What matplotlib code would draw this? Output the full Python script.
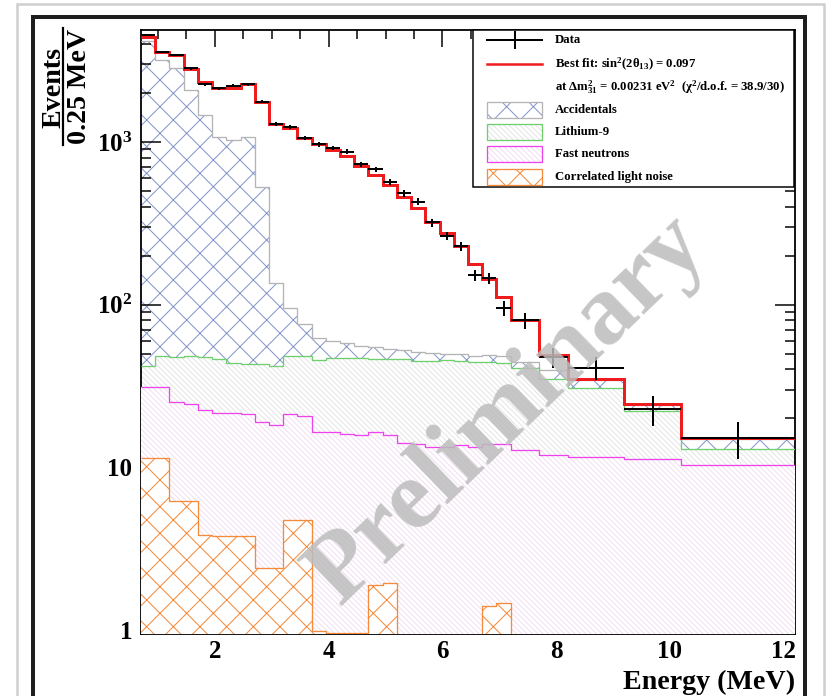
import numpy as np
import matplotlib
matplotlib.use('Agg')
import matplotlib.pyplot as plt
from matplotlib.patches import Rectangle
from matplotlib.lines import Line2D
from matplotlib.ticker import MultipleLocator, FixedLocator, FixedFormatter, LogLocator, NullFormatter

# ---------------- data ----------------
edges = [0.7, 0.95, 1.2, 1.45, 1.7, 1.95, 2.2, 2.45, 2.7, 2.95, 3.2, 3.45, 3.7, 3.95,
         4.2, 4.45, 4.7, 4.95, 5.2, 5.45, 5.7, 5.95, 6.2, 6.45, 6.7, 6.95, 7.2,
         7.7, 8.2, 9.2, 10.2, 12.2]
data = [4550, 3580, 3420, 2830, 2260, 2135, 2220, 2260, 1765, 1283, 1240, 1060, 966, 918,
        870, 730, 680, 570, 483, 430, 320, 265, 228, 152, 145, 95, 80, 47.6, 41, 22.7, 15.1]
data_err = [67, 60, 58, 53, 48, 46, 47, 48, 42, 36, 35, 33, 31, 30,
            29, 27, 26, 24, 22, 21, 18, 16, 15, 12, 12, 9.7, 8.9, 6.9, 6.4, 4.8, 3.9]
best_fit = [4430, 3550, 3400, 2805, 2325, 2135, 2155, 2260, 1750, 1283, 1213, 1062, 965, 890,
            815, 708, 630, 543, 460, 390, 323, 274, 228, 178, 144, 112, 80, 49, 34.9, 24.6, 15.1]
accidentals = [4150, 3190, 2830, 2085, 1465, 1077, 1027, 1077, 530, 136, 96, 76, 62, 60,
               58, 55.7, 54.6, 53.6, 52.6, 51, 50.7, 50, 50, 48.3, 49, 48, 44.6, 39.8, 34.6, 24.2, 15]
lithium9 = [42, 48.3, 47.6, 48.3, 47.6, 46, 43.6, 43, 43, 42, 48, 48, 45.7, 46.8,
            47.3, 47.3, 46.5, 46.5, 46, 45.2, 45, 45.5, 45, 44.5, 44.5, 44, 40.5, 35, 30.6, 22.3, 12.9]
fast_neutrons = [31, 31, 25.3, 24.5, 22.5, 21.5, 21.7, 21.3, 19.1, 18.2, 21.3, 20.8, 16.6, 16.4,
                 16, 15.8, 16.4, 15.8, 14.2, 14, 13.4, 13.4, 13.7, 13.4, 14, 14, 12.8, 11.9, 11.6, 11.3, 10.3]
light_noise = [11.4, 11.4, 6.2, 6.2, 3.84, 3.8, 3.8, 3.8, 2.39, 2.39, 4.74, 4.74, 0.99, 0.96,
               0.96, 0.96, 1.89, 1.94, 0, 0, 0, 0, 0, 0, 1.40, 1.47, 0, 0, 0, 0, 0]

xtick_vals = [2, 4, 6, 8, 10, 12]
ytick_vals = [1, 10, 100, 1000]
ytick_labels = ['1', '10', '10$^{2}$', '10$^{3}$']

legend_labels = ['Data',
                 r'Best fit: sin$^{2}$(2$\theta_{13}$) = 0.097',
                 r'at $\Delta$m$^{2}_{31}$ = 0.00231 eV$^{2}$  ($\chi^{2}$/d.o.f. = 38.9/30)',
                 'Accidentals', 'Lithium-9', 'Fast neutrons', 'Correlated light noise']

# ---------------- style ----------------
W, H, DPI = 833, 696, 160
PT = 72.0 / DPI  # points per pixel
plt.rcParams['font.family'] = ['Liberation Serif', 'DejaVu Serif']
plt.rcParams['font.weight'] = 'bold'
plt.rcParams['mathtext.fontset'] = 'custom'
plt.rcParams['mathtext.rm'] = 'Liberation Serif:bold'
plt.rcParams['mathtext.it'] = 'Liberation Serif:bold:italic'
plt.rcParams['mathtext.bf'] = 'Liberation Serif:bold'
plt.rcParams['mathtext.default'] = 'rm'
plt.rcParams['hatch.linewidth'] = 1.0 * PT

C_ACC_H = '#8496c8'
C_ACC_L = '#b4b4b4'
C_LI = '#6fcf6f'
C_LI_H = '#e4e4e4'
C_FN = '#ee44ee'
C_FN_H = '#f2dff2'
C_LN = '#f58a3a'
C_RED = '#ee1c1c'
H_X = 'xx'
H_FAINT = '\\' * 10

fig = plt.figure(figsize=(W / DPI, H / DPI), dpi=DPI)
ax_l, ax_r, ax_t, ax_b = 141, 795, 30, 634
ax = fig.add_axes([ax_l / W, 1 - ax_b / H, (ax_r - ax_l) / W, (ax_b - ax_t) / H])

edges_a = np.asarray(edges, float)
centers = 0.5 * (edges_a[1:] + edges_a[:-1])
halfw = 0.5 * (edges_a[1:] - edges_a[:-1])
FLOOR = 1e-3


def stack_layer(vals, hatch, hcolor, lcolor, z):
    v = np.asarray(vals, float)
    v = np.where(v > 0, v, FLOOR)
    ax.stairs(v, edges_a, baseline=FLOOR, fill=True, facecolor='white', edgecolor=hcolor,
              hatch=hatch, linewidth=0, zorder=z)
    ax.stairs(v, edges_a, baseline=None, color=lcolor, linewidth=1.3 * PT, zorder=z + 5)


stack_layer(accidentals, H_X, C_ACC_H, C_ACC_L, 1)
stack_layer(lithium9, H_FAINT, C_LI_H, C_LI, 2)
stack_layer(fast_neutrons, H_FAINT, C_FN_H, C_FN, 3)
stack_layer(light_noise, H_X, C_LN, C_LN, 4)

ax.stairs(best_fit, edges_a, baseline=None, color=C_RED, linewidth=3.0 * PT, zorder=11)
eb = ax.errorbar(centers, data, xerr=halfw, yerr=data_err, fmt='none', ecolor='black',
                 elinewidth=2.0 * PT, capsize=0, zorder=12)

ax.set_xlim(0.7, 12.2)
ax.set_yscale('log')
ax.set_ylim(0.945, 4875)

ax.xaxis.set_major_locator(FixedLocator(xtick_vals))
ax.xaxis.set_minor_locator(MultipleLocator(0.5))
ax.yaxis.set_major_locator(FixedLocator(ytick_vals))
ax.yaxis.set_major_formatter(FixedFormatter(ytick_labels))
ax.yaxis.set_minor_locator(LogLocator(base=10, subs=np.arange(2, 10)))
ax.yaxis.set_minor_formatter(NullFormatter())

ax.tick_params(axis='both', which='both', direction='in', top=True, right=True,
               width=1.5 * PT, colors='black')
ax.tick_params(axis='x', which='major', length=17 * PT, labelsize=25 * PT, pad=6 * PT)
ax.tick_params(axis='x', which='minor', length=9 * PT)
ax.tick_params(axis='y', which='major', length=20 * PT, labelsize=25 * PT, pad=9 * PT)
ax.tick_params(axis='y', which='minor', length=10 * PT)
for lab in ax.get_xticklabels() + ax.get_yticklabels():
    lab.set_fontweight('bold')
for sp in ax.spines.values():
    sp.set_linewidth(1.8 * PT)

# axis titles
fig.text(ax_r / W, 1 - 689 / H, 'Energy (MeV)', ha='right', va='baseline',
         fontsize=28 * PT, fontweight='bold')
fig.text(54 / W, 1 - 87 / H, 'Events', rotation=90, ha='center', va='center',
         fontsize=28 * PT, fontweight='bold')
fig.text(80 / W, 1 - 86 / H, '0.25 MeV', rotation=90, ha='center', va='center',
         fontsize=28 * PT, fontweight='bold')
fig.add_artist(Line2D([63 / W, 63 / W], [1 - 28 / H, 1 - 145 / H], color='black',
                      linewidth=2.2 * PT))

# watermark
ax.text(0.562, 0.37, 'Preliminary', transform=ax.transAxes, rotation=44,
        rotation_mode='anchor', ha='center', va='center', fontsize=100 * PT,
        fontweight='bold', color='#bcbcbc', alpha=0.85, zorder=15)


# legend (drawn manually, pixel layout -> axes fraction)
def P(px, py):
    return ((px - ax_l) / (ax_r - ax_l), (ax_b - py) / (ax_b - ax_t))


x0, y0 = P(473, 187)
x1, y1 = P(794, 30)
ax.add_patch(Rectangle((x0, y0), x1 - x0, y1 - y0, transform=ax.transAxes, facecolor='white',
                       edgecolor='black', linewidth=1.5 * PT, zorder=20, clip_on=False))
rows = [40, 64, 87, 110, 132, 154, 177]
hx0, hx1, tx = 487, 542, 555
lfs = 12.8 * PT
# data handle
a, b = P(hx0, rows[0]); c, _ = P(hx1, rows[0])
ax.add_line(Line2D([a, c], [b, b], transform=ax.transAxes, color='black', lw=2 * PT, zorder=21))
m, t1 = P(515, rows[0] - 8); _, t2 = P(515, rows[0] + 8)
ax.add_line(Line2D([m, m], [t1, t2], transform=ax.transAxes, color='black', lw=2 * PT, zorder=21))
# fit handle
a, b = P(hx0, rows[1]); c, _ = P(hx1, rows[1])
ax.add_line(Line2D([a, c], [b, b], transform=ax.transAxes, color=C_RED, lw=2.5 * PT, zorder=21))
# patch handles
patch_styles = [(H_X, C_ACC_H, C_ACC_L), (H_FAINT, C_LI_H, C_LI),
                (H_FAINT, C_FN_H, C_FN), (H_X, C_LN, C_LN)]
for ri, (hh, hc, lc) in zip(rows[3:], patch_styles):
    a, b = P(hx0, ri + 8)
    c, d = P(hx1, ri - 8)
    ax.add_patch(Rectangle((a, b), c - a, d - b, transform=ax.transAxes, facecolor='white',
                           edgecolor=hc, hatch=hh, linewidth=0, zorder=21, clip_on=False))
    ax.add_patch(Rectangle((a, b), c - a, d - b, transform=ax.transAxes, facecolor='none',
                           edgecolor=lc, linewidth=1.3 * PT, zorder=22, clip_on=False))
for ri, lab in zip(rows, legend_labels):
    a, b = P(tx, ri)
    ax.text(a, b, lab, transform=ax.transAxes, ha='left', va='center', fontsize=lfs,
            fontweight='bold', zorder=23)

# page frame (scanned slide border)
fig.add_artist(Rectangle((17 / W, -0.05), (824 - 17) / W, 1.05 - 4 / H, transform=fig.transFigure,
                         facecolor='none', edgecolor='#cfcfcf', linewidth=2.5 * PT))
fig.add_artist(Rectangle((33 / W, -0.05), (805 - 33) / W, 1.05 - 17 / H, transform=fig.transFigure,
                         facecolor='none', edgecolor='#1e1e1e', linewidth=4 * PT))

fig.savefig('out.png', dpi=DPI)
